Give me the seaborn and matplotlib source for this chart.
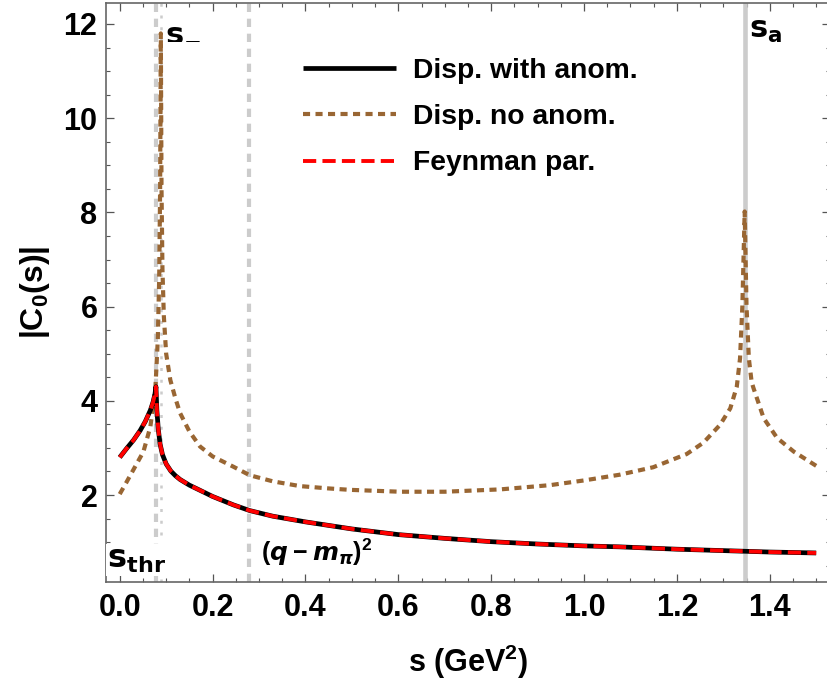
import matplotlib
matplotlib.use("Agg")
import matplotlib.pyplot as plt
import seaborn as sns
import numpy as np
import pandas as pd

# ---- data ----
s_anom = [0.0, 0.015, 0.03, 0.044, 0.055, 0.066, 0.072, 0.076, 0.078, 0.080, 0.083,
          0.087, 0.092, 0.10, 0.11, 0.12, 0.13, 0.15, 0.173, 0.2, 0.245, 0.28, 0.33,
          0.4, 0.5, 0.6, 0.7, 0.8, 0.9, 1.0, 1.076, 1.2, 1.3, 1.4, 1.5]
c_anom = [2.80, 2.99, 3.17, 3.37, 3.56, 3.80, 3.98, 4.15, 4.30, 3.80, 3.40,
          3.08, 2.86, 2.66, 2.51, 2.41, 2.33, 2.21, 2.10, 1.97, 1.79, 1.67, 1.55,
          1.43, 1.28, 1.16, 1.08, 1.01, 0.96, 0.92, 0.90, 0.85, 0.82, 0.79, 0.77]

s_noanom = [0.0, 0.015, 0.033, 0.051, 0.066, 0.077, 0.082, 0.085, 0.087, 0.0885, 0.090,
            0.092, 0.095, 0.10, 0.109, 0.12, 0.13, 0.15, 0.173, 0.2, 0.245, 0.28, 0.33,
            0.388, 0.45, 0.496, 0.55, 0.604, 0.7, 0.82, 0.927, 1.0, 1.076, 1.149, 1.221,
            1.257, 1.293, 1.315, 1.329, 1.336, 1.341, 1.346, 1.350, 1.355, 1.361, 1.365,
            1.387, 1.416, 1.452, 1.5]
c_noanom = [2.02, 2.28, 2.60, 2.92, 3.45, 4.30, 5.30, 6.60, 8.50, 11.80, 8.50,
            6.80, 5.80, 5.00, 4.44, 4.05, 3.74, 3.35, 3.03, 2.82, 2.60, 2.42, 2.29,
            2.19, 2.14, 2.11, 2.09, 2.07, 2.07, 2.12, 2.21, 2.31, 2.43, 2.59, 2.87,
            3.11, 3.49, 3.84, 4.30, 4.90, 6.00, 8.02, 6.00, 4.90, 4.40, 4.27,
            3.63, 3.21, 2.92, 2.62]

# Feynman parametrisation coincides with the dispersive result with anomaly
s_feyn = s_anom
c_feyn = c_anom

s_thr = 0.0779
s_minus = 0.089
q_minus_mpi_sq = 0.279
s_a = 1.347

legend_labels = ["Disp. with anom.", "Disp. no anom.", "Feynman par."]
x_ticks = [0.0, 0.2, 0.4, 0.6, 0.8, 1.0, 1.2, 1.4]
y_ticks = [2, 4, 6, 8, 10, 12]

# ---- style ----
sns.set_theme(style="ticks")
plt.rcParams["font.family"] = ["Liberation Sans", "DejaVu Sans"]
plt.rcParams["text.color"] = "black"
plt.rcParams["axes.labelcolor"] = "black"
plt.rcParams["xtick.labelcolor"] = "black"
plt.rcParams["ytick.labelcolor"] = "black"
plt.rcParams["mathtext.fontset"] = "custom"
plt.rcParams["mathtext.rm"] = "Liberation Sans:bold"
plt.rcParams["mathtext.bf"] = "Liberation Sans:bold"
plt.rcParams["mathtext.it"] = "DejaVu Sans:italic:bold"
plt.rcParams["mathtext.sf"] = "DejaVu Sans:bold"

W, H = 827, 689
fig = plt.figure(figsize=(W / 100, H / 100), dpi=100)
x0, x1 = -0.03, 1.53
y0, y1 = 0.16, 12.45
left_px, right_px = 105.8, 830.1
bot_px, top_px = 581.7, 2.8
ax = fig.add_axes([left_px / W, (H - bot_px) / H,
                   (right_px - left_px) / W, (bot_px - top_px) / H])

gray = "#CCCCCC"
ax.axvline(s_thr, color=gray, lw=3.0, linestyle=(0, (2.0, 1.6)), zorder=1)
ax.axvline(s_minus, color=gray, lw=1.8, linestyle=(0, (1.2, 3.5)), zorder=1)
ax.axvline(q_minus_mpi_sq, color=gray, lw=3.0, linestyle=(0, (2.0, 1.6)), zorder=1)
ax.axvline(s_a, color=gray, lw=3.3, zorder=1)

df_anom = pd.DataFrame({"s": s_anom, "C": c_anom})
df_noanom = pd.DataFrame({"s": s_noanom, "C": c_noanom})
df_feyn = pd.DataFrame({"s": s_feyn, "C": c_feyn})

sns.lineplot(data=df_anom, x="s", y="C", ax=ax, color="black", lw=3.4,
             label=legend_labels[0], zorder=3, solid_capstyle="butt")
sns.lineplot(data=df_noanom, x="s", y="C", ax=ax, color="#996633", lw=3.0,
             linestyle=(0, (1.7, 1.3)), label=legend_labels[1], zorder=2)
sns.lineplot(data=df_feyn, x="s", y="C", ax=ax, color="#FF0000", lw=2.8,
             linestyle=(0, (3.4, 1.6)), label=legend_labels[2], zorder=4)

ax.set_xlim(x0, x1)
ax.set_ylim(y0, y1)
ax.set_xticks(x_ticks)
ax.set_xticklabels([f"{v:.1f}" for v in x_ticks])
ax.set_yticks(y_ticks)
ax.set_yticklabels([str(v) for v in y_ticks])
ax.set_xticks(np.arange(0.0, 1.55, 0.05), minor=True)
ax.set_yticks(np.arange(0.5, 12.45, 0.5), minor=True)

ax.tick_params(which="both", direction="in", top=True, right=True, color="#555555")
ax.tick_params(which="major", length=6, width=0.9, labelsize=22, pad=6)
ax.tick_params(axis="x", which="major", pad=8)
ax.tick_params(which="minor", length=3.2, width=0.8)
for lab in ax.get_xticklabels() + ax.get_yticklabels():
    lab.set_fontweight("bold")
for sp in ax.spines.values():
    sp.set_color("#666666")
    sp.set_linewidth(1.2)

ax.set_xlabel(r"s (GeV$^{2}$)", fontsize=22, fontweight="bold", labelpad=14)
ax.set_ylabel(r"$\mathrm{|C_0(s)|}$", fontsize=23, labelpad=8)

# annotations
ax.text(0.0985, 11.85, r"$\mathsf{s_{-}}$", fontsize=22, va="center", ha="left")
ax.text(1.356, 11.87, r"$\mathsf{s_{a}}$", fontsize=22, va="center", ha="left")
ax.text(-0.027, 0.62, r"$\mathsf{s_{thr}}$", fontsize=23, va="center", ha="left",
        bbox=dict(facecolor="white", edgecolor="none", pad=1.0), zorder=5)
ax.text(0.305, 0.78, r"$(q - m_{\pi})^{2}$", fontsize=18, va="center", ha="left")

leg = ax.legend(loc="upper left", bbox_to_anchor=(0.2723, 0.905), frameon=False,
                borderpad=0, borderaxespad=0, handlelength=3.3, handletextpad=0.6,
                labelspacing=0.72, prop={"weight": "bold", "size": 20.3})

fig.savefig("out.png", dpi=100)
